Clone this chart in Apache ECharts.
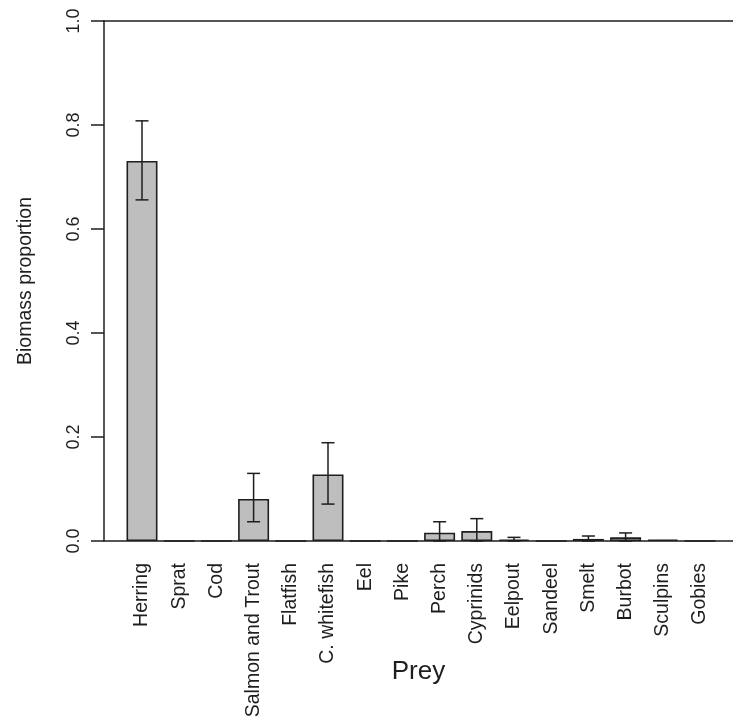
<!DOCTYPE html>
<html>
<head>
<meta charset="utf-8">
<script src="https://cdn.jsdelivr.net/npm/echarts@6/dist/echarts.min.js"></script>
<style>
  html, body { margin: 0; padding: 0; background: #fff; }
  #chart { width: 733px; height: 723px; }
</style>
</head>
<body>
<div id="chart"></div>
<script>
// Prey categories and mean biomass proportions with interval bounds
const prey = ['Herring', 'Sprat', 'Cod', 'Salmon and Trout', 'Flatfish', 'C. whitefish',
  'Eel', 'Pike', 'Perch', 'Cyprinids', 'Eelpout', 'Sandeel', 'Smelt', 'Burbot', 'Sculpins', 'Gobies'];
const proportion = [0.731, 0, 0, 0.081, 0, 0.128, 0, 0, 0.016, 0.019, 0.003, 0, 0.004, 0.007, 0.003, 0];
const lower = [0.656, null, null, 0.037, null, 0.071, null, null, 0, 0, 0, null, 0, 0, null, null];
const upper = [0.808, null, null, 0.130, null, 0.189, null, null, 0.037, 0.043, 0.007, null, 0.0096, 0.0155, null, null];
const yTickLabels = ['0.0', '0.2', '0.4', '0.6', '0.8', '1.0'];

const ink = '#1e1e1e';
const font = '"Liberation Sans", Arial, sans-serif';

const errorData = prey.map((p, i) => [i, lower[i], upper[i]]).filter(d => d[1] !== null);

const chart = echarts.init(document.getElementById('chart'), null, { renderer: 'canvas' });

chart.setOption({
  animation: false,
  backgroundColor: '#ffffff',
  grid: [
    // frame: left axis, top and bottom lines
    { left: 104, right: 0, top: 21, bottom: 182 },
    // bar area
    { left: 123.4, right: 14.4, top: 21, bottom: 182 }
  ],
  xAxis: [
    {
      gridIndex: 0, type: 'value', min: 0, max: 1, position: 'bottom',
      axisLine: { show: true, lineStyle: { color: ink, width: 1.5 } },
      axisTick: { show: false }, axisLabel: { show: false }, splitLine: { show: false },
      name: 'Prey', nameLocation: 'middle', nameGap: 118,
      nameTextStyle: { fontFamily: font, fontSize: 26, color: ink }
    },
    {
      gridIndex: 0, type: 'value', min: 0, max: 1, position: 'top',
      axisLine: { show: true, lineStyle: { color: ink, width: 1.5 } },
      axisTick: { show: false }, axisLabel: { show: false }, splitLine: { show: false }
    },
    {
      gridIndex: 1, type: 'category', data: prey, position: 'bottom',
      axisLine: { show: false }, axisTick: { show: false }, splitLine: { show: false },
      axisLabel: { rotate: 90, margin: 22, interval: 0, fontFamily: font, fontSize: 19.5, color: ink }
    }
  ],
  yAxis: [
    {
      gridIndex: 0, type: 'value', min: 0, max: 1, interval: 0.2,
      axisLine: { show: true, lineStyle: { color: ink, width: 1.5 } },
      axisTick: { show: true, length: 13, lineStyle: { color: ink, width: 1.5 } },
      splitLine: { show: false },
      axisLabel: {
        rotate: 90, margin: 21, fontFamily: font, fontSize: 18, color: ink,
        formatter: v => yTickLabels[Math.round(v / 0.2)]
      },
      name: 'Biomass proportion', nameLocation: 'middle', nameGap: 68,
      nameTextStyle: { fontFamily: font, fontSize: 19.5, color: ink }
    },
    {
      gridIndex: 1, type: 'value', min: 0, max: 1, show: false
    }
  ],
  series: [
    {
      type: 'bar', xAxisIndex: 2, yAxisIndex: 1, data: proportion,
      barWidth: '83.33%',
      itemStyle: { color: '#bebebe', borderColor: ink, borderWidth: 1.6 }
    },
    {
      type: 'custom', xAxisIndex: 2, yAxisIndex: 1, data: errorData,
      z: 5,
      renderItem: function (params, api) {
        const x = api.value(0);
        const lo = api.coord([x, api.value(1)]);
        const hi = api.coord([x, api.value(2)]);
        const half = 6.5;
        const style = { stroke: ink, lineWidth: 1.5 };
        return {
          type: 'group',
          children: [
            { type: 'line', shape: { x1: lo[0], y1: lo[1], x2: hi[0], y2: hi[1] }, style },
            { type: 'line', shape: { x1: hi[0] - half, y1: hi[1], x2: hi[0] + half, y2: hi[1] }, style },
            { type: 'line', shape: { x1: lo[0] - half, y1: lo[1], x2: lo[0] + half, y2: lo[1] }, style }
          ]
        };
      }
    }
  ]
});
</script>
</body>
</html>
